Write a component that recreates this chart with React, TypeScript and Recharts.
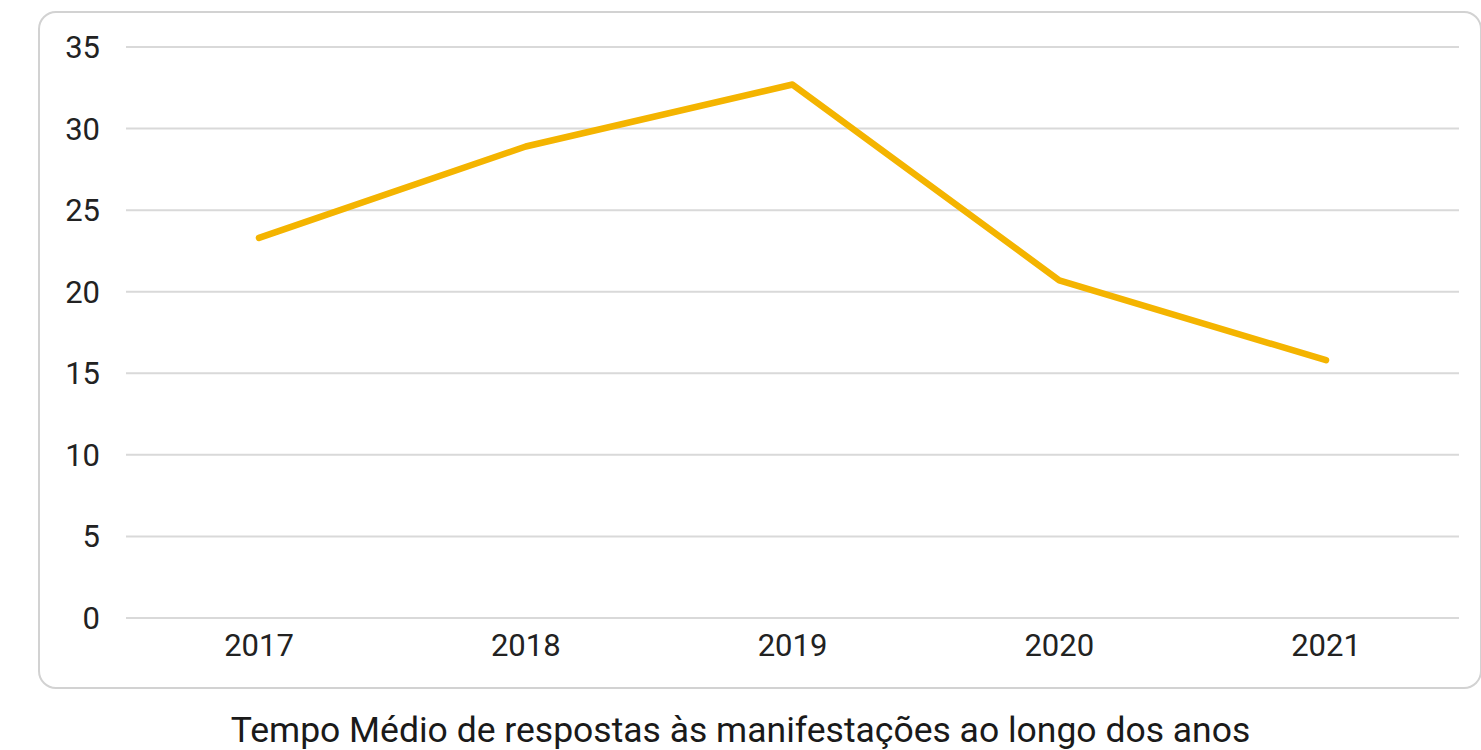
import { CartesianGrid, Line, LineChart, XAxis, YAxis } from "recharts";

const years = ["2017", "2018", "2019", "2020", "2021"];
const avgResponseDays = [23.3, 28.9, 32.7, 20.7, 15.8];
const yTicks = [0, 5, 10, 15, 20, 25, 30, 35];
const title = "Tempo Médio de respostas às manifestações ao longo dos anos";

const data = years.map((year, i) => ({ year, value: avgResponseDays[i] }));

export default function App() {
  return (
    <div
      style={{
        position: "absolute",
        left: 0,
        top: 0,
        width: 1481,
        height: 750,
        background: "#fff",
        fontFamily: "Roboto, sans-serif",
        overflow: "hidden",
      }}
    >
      <div
        style={{
          position: "absolute",
          left: 38,
          top: 11,
          width: 1440,
          height: 674,
          border: "2px solid #d2d2d2",
          borderRadius: 18,
        }}
      />
      <div style={{ position: "absolute", left: 0, top: 0 }}>
        <LineChart
          width={1481}
          height={700}
          data={data}
          margin={{ top: 47, right: 22, left: 40, bottom: 32 }}
        >
          <CartesianGrid
            vertical={false}
            stroke="#d9d9d9"
            strokeWidth={2}
          />
          <XAxis
            dataKey="year"
            axisLine={false}
            tickLine={false}
            tickSize={0}
            tickMargin={16}
            height={50}
            padding={{ left: 133, right: 133 }}
            tick={{ fontSize: 31, fill: "#222", fontFamily: "Roboto" }}
          />
          <YAxis
            domain={[0, 35]}
            ticks={yTicks}
            axisLine={false}
            tickLine={false}
            tickSize={0}
            tickMargin={26}
            width={86}
            tick={{ fontSize: 31, fill: "#222", fontFamily: "Roboto" }}
          />
          <Line
            type="linear"
            dataKey="value"
            stroke="#f4b400"
            strokeWidth={6.5}
            strokeLinejoin="round"
            strokeLinecap="round"
            dot={false}
            activeDot={false}
            isAnimationActive={false}
          />
        </LineChart>
      </div>
      <div
        style={{
          position: "absolute",
          left: 0,
          top: 708,
          width: 1481,
          textAlign: "center",
          fontSize: 35.5,
          color: "#1a1a1a",
          lineHeight: "44px",
        }}
      >
        {title}
      </div>
    </div>
  );
}
